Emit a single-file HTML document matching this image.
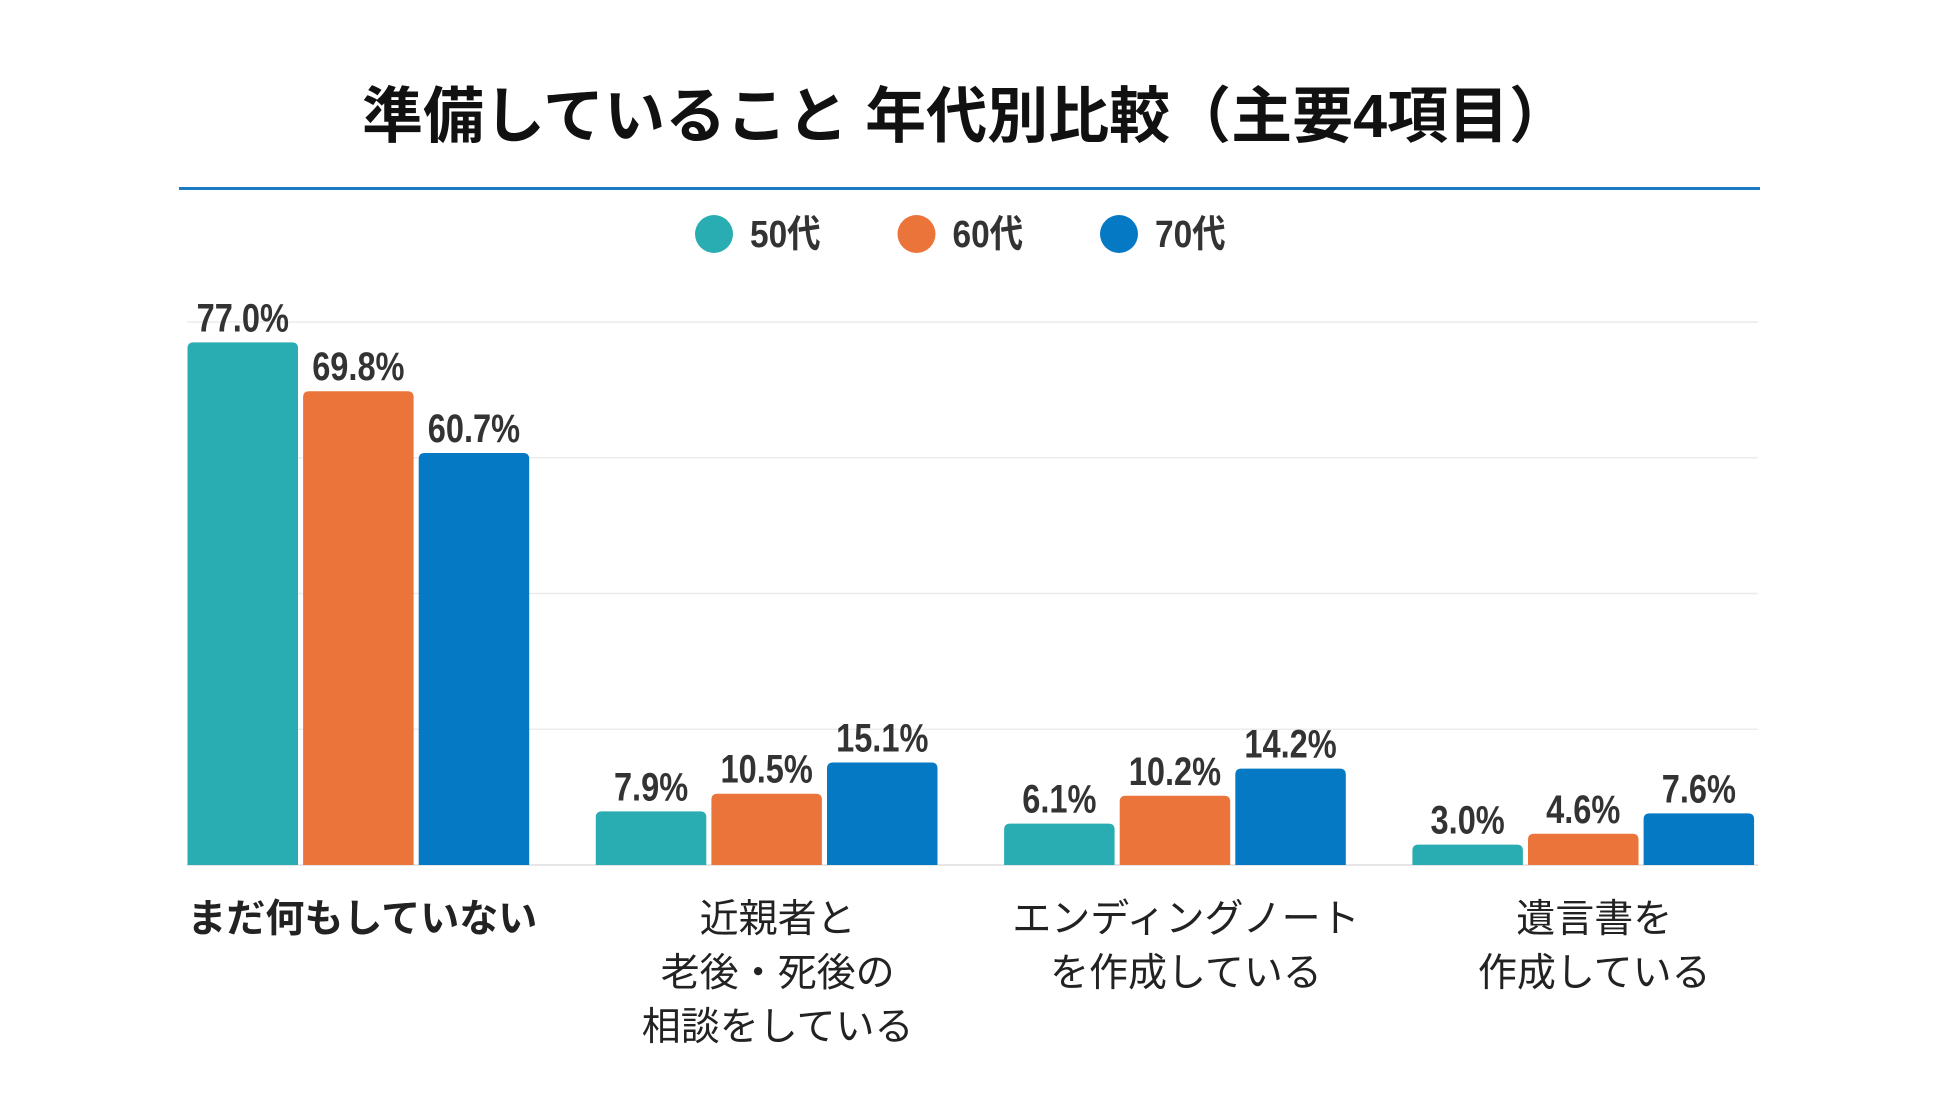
<!DOCTYPE html>
<html><head><meta charset="utf-8"><style>
body{margin:0;background:#fff;width:1950px;height:1097px;overflow:hidden}
svg text{font-family:"Liberation Sans","Noto Sans CJK JP",sans-serif}
.v{font-family:"Liberation Sans","Noto Sans CJK JP",sans-serif;font-weight:bold;fill:#333}
</style></head><body>
<svg id="c" width="1950" height="1097">
<text x="966" y="137" text-anchor="middle" font-size="61" font-weight="bold" fill="#111">準備していること 年代別比較（主要4項目）</text>
<rect x="179" y="187" width="1581" height="3" fill="#1a7bc4"/>
<g id="legend"></g>
<g id="grid"></g>
<g id="bars"></g>
<g id="cats"></g>
</svg>
<script>
const categories=[["まだ何もしていない"],["近親者と","老後・死後の","相談をしている"],["エンディングノート","を作成している"],["遺言書を","作成している"]];
const seriesNames=["50代","60代","70代"];
const s50=[77.0,7.9,6.1,3.0];
const s60=[69.8,10.5,10.2,4.6];
const s70=[60.7,15.1,14.2,7.6];
const gridTicks=[0,20,40,60,80];
const colors=["#2aadb2","#eb743a","#0679c4"];
const series=[s50,s60,s70];
const NS="http://www.w3.org/2000/svg";
const base=865, top0=322, vmax=80;
const y=v=>base-(v/vmax)*(base-top0);
const x0=187.5, gstep=408.3, bstep=115.6, bw=110.5;
function mk(t,a,p){const e=document.createElementNS(NS,t);for(const k in a)e.setAttribute(k,a[k]);p.appendChild(e);return e;}
const grid=document.getElementById('grid');
gridTicks.forEach(t=>{
 const l=mk('line',{x1:187,x2:1758,y1:y(t),y2:y(t),stroke:t===0?'#ddd':'#ececec','stroke-width':1.5},grid);
 
 
});
const lg=document.getElementById('legend');
seriesNames.forEach((n,i)=>{
 const cx=714+i*202.5;
 const c=mk('circle',{cx:cx,cy:234,r:19,fill:colors[i]},lg);
 
 
 const g=mk('g',{transform:`translate(${cx+36},247) scale(0.88,1)`},lg);
 const t=mk('text',{x:0,y:0,'font-size':38,class:'v'},g);t.textContent=n;
 
 
});
const bars=document.getElementById('bars');
series.forEach((s,si)=>{
 s.forEach((v,ci)=>{
  const bx=x0+ci*gstep+si*bstep, by=y(v), r=6;
  const p=mk('path',{d:`M${bx},${base}V${by+r}Q${bx},${by} ${bx+r},${by}H${bx+bw-r}Q${bx+bw},${by} ${bx+bw},${by+r}V${base}Z`,fill:colors[si]},bars);
  
  
  const g=mk('g',{transform:`translate(${bx+bw/2},${by-11}) scale(0.88,1.08)`},bars);
  const t=mk('text',{x:0,y:0,'text-anchor':'middle','font-size':37,class:'v'},g);
  t.textContent=v.toFixed(1)+'%';
  
  
 });
});
const cats=document.getElementById('cats');
categories.forEach((lines,ci)=>{
 const cx=x0+ci*gstep+(2*bstep+bw)/2+(ci===0?4:11);
 lines.forEach((ln,li)=>{
  const t=mk('text',{x:cx,y:932+li*54,'text-anchor':'middle','font-size':39,fill:'#222','font-weight':ci===0?'bold':'normal'},cats);
  t.textContent=ln;
  
  
 });
});
</script>
</body></html>
